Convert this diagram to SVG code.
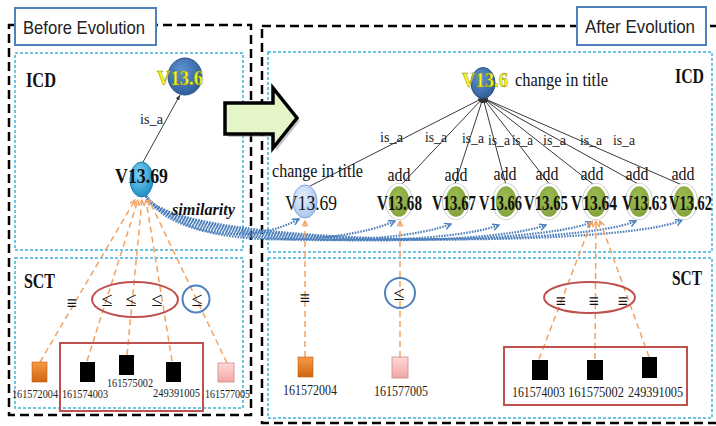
<svg xmlns="http://www.w3.org/2000/svg" width="716" height="426" viewBox="0 0 716 426">
<defs>
<style>
.serif{font-family:"Liberation Serif","Times New Roman",serif}
.sans{font-family:"Liberation Sans",Arial,sans-serif}
.outer{fill:none;stroke:#000;stroke-width:2.5;stroke-dasharray:9 5}
.cyan{fill:none;stroke:#3cb4d8;stroke-width:1.5;stroke-dasharray:3 2}
.tag{fill:#fff;stroke:#4f81bd;stroke-width:2}
.isa{stroke:#3a3a3a;stroke-width:1;fill:none;marker-end:url(#ai)}
.map{fill:none;stroke:#f4a261;stroke-width:1.5;stroke-dasharray:6 4;marker-end:url(#ao)}
.sim{fill:none;stroke:#4f81bd;stroke-width:2.2;stroke-dasharray:1.6 1.2;marker-end:url(#ab)}
.grp{fill:none;stroke:#c0504d;stroke-width:2}
.node{font-weight:bold;font-size:20px;fill:#111}
.noder{font-size:20px;fill:#111}
.lab{font-size:18px;fill:#111}
.isal{font-size:15px;fill:#222}
.num{font-size:12px;fill:#222}
.numr{font-size:14px;fill:#222}
.sym{font-size:18px;font-weight:bold;fill:#111}
.le{font-size:20px;fill:#111}
.hd{font-weight:bold;font-size:20px;fill:#111}
.green{fill:url(#gGreen);stroke:#fff;stroke-width:2.5}
.halo{fill:none;stroke:#cfcfcf;stroke-width:1.2}
.blk{fill:#000}
.yel{fill:#f7f722;stroke:#8a8a00;stroke-width:0.5;font-weight:bold;font-size:21px}
</style>
<marker id="ai" viewBox="0 0 10 10" refX="10" refY="5" markerWidth="5" markerHeight="5" markerUnits="userSpaceOnUse" orient="auto"><path d="M0,1 L10,5 L0,9 Z" fill="#333"/></marker>
<marker id="ao" viewBox="0 0 10 10" refX="9" refY="5" markerWidth="7" markerHeight="7" markerUnits="userSpaceOnUse" orient="auto"><path d="M1,1 L9,5 L1,9" fill="none" stroke="#f4a261" stroke-width="1.8"/></marker>
<marker id="ab" viewBox="0 0 10 10" refX="9" refY="5" markerWidth="8" markerHeight="8" markerUnits="userSpaceOnUse" orient="auto"><path d="M1,1 L9,5 L1,9" fill="none" stroke="#4f81bd" stroke-width="1.8"/></marker>
<radialGradient id="gDark" cx="40%" cy="35%" r="70%"><stop offset="0" stop-color="#5f92d2"/><stop offset="1" stop-color="#2d5b98"/></radialGradient>
<radialGradient id="gLight" cx="40%" cy="35%" r="70%"><stop offset="0" stop-color="#7fd3f4"/><stop offset="1" stop-color="#1b8ac4"/></radialGradient>
<radialGradient id="gPale" cx="40%" cy="35%" r="70%"><stop offset="0" stop-color="#e6effb"/><stop offset="1" stop-color="#a6c4ee"/></radialGradient>
<radialGradient id="gGreen" cx="45%" cy="40%" r="70%"><stop offset="0" stop-color="#9fbe55"/><stop offset="1" stop-color="#7d9c35"/></radialGradient>
<linearGradient id="gOrange" x1="0" y1="0" x2="0" y2="1"><stop offset="0" stop-color="#f79a46"/><stop offset="1" stop-color="#d0650f"/></linearGradient>
<linearGradient id="gPink" x1="0" y1="0" x2="0" y2="1"><stop offset="0" stop-color="#ffd8d8"/><stop offset="1" stop-color="#f3a6a6"/></linearGradient>
</defs>

<rect width="716" height="426" fill="#fff"/>

<g id="containers">
  <rect class="outer" x="9" y="25" width="242" height="390"/>
  <rect class="outer" x="262" y="26" width="456" height="397"/>
  <rect class="cyan" x="15" y="53" width="228" height="197"/>
  <rect class="cyan" x="15" y="258" width="228" height="150"/>
  <rect class="cyan" x="268" y="52" width="444" height="200"/>
  <rect class="cyan" x="268" y="258" width="444" height="160"/>
  <text class="serif hd" x="26" y="87" textLength="30" lengthAdjust="spacingAndGlyphs">ICD</text>
  <text class="serif hd" x="24" y="288" textLength="31" lengthAdjust="spacingAndGlyphs">SCT</text>
  <text class="serif hd" x="675" y="83" textLength="29" lengthAdjust="spacingAndGlyphs">ICD</text>
  <text class="serif hd" x="672" y="285" textLength="30" lengthAdjust="spacingAndGlyphs">SCT</text>
</g>

<g id="before-label">
  <rect class="tag" x="15" y="8" width="141" height="37"/>
  <text class="sans" x="23" y="34" font-size="19" fill="#222" textLength="122" lengthAdjust="spacingAndGlyphs">Before Evolution</text>
</g>
<g id="after-label">
  <rect class="tag" x="577" y="7" width="129" height="38"/>
  <text class="sans" x="585" y="33" font-size="19" fill="#222" textLength="110" lengthAdjust="spacingAndGlyphs">After Evolution</text>
</g>

<g id="evolution-arrow">
  <polygon points="228,106 276,106 276,91 300,121 276,151 276,137 228,137" fill="#888" opacity="0.45"/>
  <polygon points="225,103 273,103 273,88 297,118 273,148 273,134 225,134" fill="#e4f5c8" stroke="#000" stroke-width="3.5" stroke-linejoin="miter"/>
</g>

<g id="connectors">
  <line class="isa" x1="143" y1="162" x2="180" y2="95"/>
  <text class="serif isal" x="140" y="124" textLength="23" lengthAdjust="spacingAndGlyphs">is_a</text>
  <line class="isa" x1="310" y1="186" x2="483" y2="98"/>
  <line class="isa" x1="402" y1="184" x2="483" y2="98"/>
  <line class="isa" x1="455" y1="184" x2="483" y2="98"/>
  <line class="isa" x1="506" y1="185" x2="483" y2="98"/>
  <line class="isa" x1="550" y1="185" x2="483" y2="98"/>
  <line class="isa" x1="594" y1="185" x2="483" y2="98"/>
  <line class="isa" x1="640" y1="185" x2="483" y2="98"/>
  <line class="isa" x1="682" y1="185" x2="483" y2="98"/>
  <text class="serif isal" x="380" y="142" textLength="23" lengthAdjust="spacingAndGlyphs">is_a</text>
  <text class="serif isal" x="425" y="142" textLength="22" lengthAdjust="spacingAndGlyphs">is_a</text>
  <text class="serif isal" x="462" y="143" textLength="22" lengthAdjust="spacingAndGlyphs">is_a</text>
  <text class="serif isal" x="488" y="145" textLength="22" lengthAdjust="spacingAndGlyphs">is_a</text>
  <text class="serif isal" x="512" y="145" textLength="21" lengthAdjust="spacingAndGlyphs">is_a</text>
  <text class="serif isal" x="543" y="145" textLength="23" lengthAdjust="spacingAndGlyphs">is_a</text>
  <text class="serif isal" x="580" y="145" textLength="22" lengthAdjust="spacingAndGlyphs">is_a</text>
  <text class="serif isal" x="613" y="145" textLength="22" lengthAdjust="spacingAndGlyphs">is_a</text>

  <path class="sim" d="M146,196 C180,236 250,246 299,219"/>
  <path class="sim" d="M146,196 C175,250 335,248 395,221"/>
  <path class="sim" d="M146,196 C175,250 391,248 451,224"/>
  <path class="sim" d="M146,196 C175,250 439,248 499,225"/>
  <path class="sim" d="M146,196 C175,250 486,248 546,225"/>
  <path class="sim" d="M146,196 C175,250 533,248 592,222"/>
  <path class="sim" d="M146,196 C175,250 576,248 636,221"/>
  <path class="sim" d="M146,196 C175,250 622,248 682,220"/>
  <text class="serif" x="172" y="215" font-size="17" font-weight="bold" font-style="italic" fill="#111" textLength="63" lengthAdjust="spacingAndGlyphs">similarity</text>

  <line class="map" x1="40" y1="362" x2="135" y2="200"/>
  <line class="map" x1="87" y1="361" x2="138" y2="200"/>
  <line class="map" x1="127" y1="355" x2="142" y2="200"/>
  <line class="map" x1="172" y1="361" x2="146" y2="200"/>
  <line class="map" x1="227" y1="363" x2="149" y2="200"/>
  <line class="map" x1="305" y1="357" x2="305" y2="221"/>
  <line class="map" x1="400" y1="357" x2="400" y2="221"/>
  <line class="map" x1="539" y1="359" x2="592" y2="221"/>
  <line class="map" x1="595" y1="359" x2="596" y2="221"/>
  <line class="map" x1="649" y1="357" x2="600" y2="221"/>

  <ellipse class="grp" cx="135" cy="299.5" rx="43" ry="17.5"/>
  <circle cx="196" cy="299" r="13.5" fill="none" stroke="#4f81bd" stroke-width="2"/>
  <text class="serif sym" x="72" y="309" text-anchor="middle">≡</text>
  <text class="serif le" x="107" y="306" text-anchor="middle">≤</text>
  <text class="serif le" x="131" y="306" text-anchor="middle">≤</text>
  <text class="serif le" x="157" y="306" text-anchor="middle">≤</text>
  <text class="serif le" x="197" y="306" text-anchor="middle">≤</text>
  <ellipse class="grp" cx="589.5" cy="297.5" rx="45.5" ry="15.5"/>
  <circle cx="400" cy="293" r="15" fill="none" stroke="#4f81bd" stroke-width="2"/>
  <text class="serif sym" x="305" y="304" text-anchor="middle">≡</text>
  <text class="serif le" x="399" y="300" text-anchor="middle">≤</text>
  <text class="serif sym" x="561" y="307" text-anchor="middle">≡</text>
  <text class="serif sym" x="594" y="307" text-anchor="middle">≡</text>
  <text class="serif sym" x="623" y="307" text-anchor="middle">≡</text>
</g>

<g id="L-V13.6">
  <ellipse cx="185" cy="76.5" rx="17" ry="18.5" fill="url(#gDark)" stroke="#2a4f80" stroke-width="1"/>
  <text class="serif yel" x="157" y="85" textLength="46" lengthAdjust="spacingAndGlyphs">V13.6</text>
</g>
<g id="L-V13.69">
  <ellipse cx="141.5" cy="179.5" rx="11.5" ry="17.5" fill="url(#gLight)" stroke="#1a78b0" stroke-width="1"/>
  <text class="serif node" x="115" y="183" textLength="53" lengthAdjust="spacingAndGlyphs">V13.69</text>
</g>

<g id="R-V13.6">
  <ellipse cx="483" cy="83" rx="12" ry="15.5" fill="url(#gDark)" stroke="#2a4f80" stroke-width="1"/>
  <text class="serif yel" x="462" y="87" textLength="46" lengthAdjust="spacingAndGlyphs">V13.6</text>
  <text class="serif lab" x="515" y="86" textLength="93" lengthAdjust="spacingAndGlyphs">change in title</text>
</g>
<g id="R-V13.69">
  <ellipse cx="305" cy="201.5" rx="12" ry="16.5" fill="url(#gPale)" stroke="#7fa5dc" stroke-width="1"/>
  <text class="serif noder" x="285" y="210" textLength="52" lengthAdjust="spacingAndGlyphs">V13.69</text>
  <text class="serif lab" x="272" y="177" textLength="91" lengthAdjust="spacingAndGlyphs">change in title</text>
</g>
<g id="R-V13.68">
  <ellipse class="halo" cx="399" cy="201.5" rx="13.5" ry="18"/>
  <ellipse class="green" cx="399" cy="201.5" rx="11.5" ry="16.5"/>
  <text class="serif node" x="377" y="210" textLength="45" lengthAdjust="spacingAndGlyphs">V13.68</text>
  <text class="serif lab" x="399" y="181" text-anchor="middle" textLength="23" lengthAdjust="spacingAndGlyphs">add</text>
</g>
<g id="R-V13.67">
  <ellipse class="halo" cx="456" cy="201.5" rx="13.5" ry="18"/>
  <ellipse class="green" cx="456" cy="201.5" rx="11.5" ry="16.5"/>
  <text class="serif node" x="432" y="210" textLength="44" lengthAdjust="spacingAndGlyphs">V13.67</text>
  <text class="serif lab" x="456" y="181" text-anchor="middle" textLength="23" lengthAdjust="spacingAndGlyphs">add</text>
</g>
<g id="R-V13.66">
  <ellipse class="halo" cx="506" cy="201.5" rx="13.5" ry="18"/>
  <ellipse class="green" cx="506" cy="201.5" rx="11.5" ry="16.5"/>
  <text class="serif node" x="479" y="210" textLength="43" lengthAdjust="spacingAndGlyphs">V13.66</text>
  <text class="serif lab" x="505" y="180" text-anchor="middle" textLength="23" lengthAdjust="spacingAndGlyphs">add</text>
</g>
<g id="R-V13.65">
  <ellipse class="halo" cx="549" cy="201.5" rx="13.5" ry="18"/>
  <ellipse class="green" cx="549" cy="201.5" rx="11.5" ry="16.5"/>
  <text class="serif node" x="524" y="210" textLength="44" lengthAdjust="spacingAndGlyphs">V13.65</text>
  <text class="serif lab" x="547" y="180" text-anchor="middle" textLength="23" lengthAdjust="spacingAndGlyphs">add</text>
</g>
<g id="R-V13.64">
  <ellipse class="halo" cx="596" cy="201.5" rx="13.5" ry="18"/>
  <ellipse class="green" cx="596" cy="201.5" rx="11.5" ry="16.5"/>
  <text class="serif node" x="571" y="210" textLength="46" lengthAdjust="spacingAndGlyphs">V13.64</text>
  <text class="serif lab" x="592" y="180" text-anchor="middle" textLength="23" lengthAdjust="spacingAndGlyphs">add</text>
</g>
<g id="R-V13.63">
  <ellipse class="halo" cx="639" cy="201.5" rx="13.5" ry="18"/>
  <ellipse class="green" cx="639" cy="201.5" rx="11.5" ry="16.5"/>
  <text class="serif node" x="622" y="210" textLength="45" lengthAdjust="spacingAndGlyphs">V13.63</text>
  <text class="serif lab" x="637" y="180" text-anchor="middle" textLength="23" lengthAdjust="spacingAndGlyphs">add</text>
</g>
<g id="R-V13.62">
  <ellipse class="halo" cx="684" cy="201.5" rx="13.5" ry="18"/>
  <ellipse class="green" cx="684" cy="201.5" rx="11.5" ry="16.5"/>
  <text class="serif node" x="669" y="210" textLength="43" lengthAdjust="spacingAndGlyphs">V13.62</text>
  <text class="serif lab" x="683" y="180" text-anchor="middle" textLength="23" lengthAdjust="spacingAndGlyphs">add</text>
</g>

<g id="L-group">
  <rect class="grp" x="60" y="343" width="143" height="68"/>
</g>
<g id="L-161572004">
  <rect x="32" y="362" width="15" height="20" fill="url(#gOrange)" stroke="#c06010" stroke-width="0.6"/>
  <text class="serif num" x="12" y="398" textLength="46" lengthAdjust="spacingAndGlyphs">161572004</text>
</g>
<g id="L-161574003">
  <rect class="blk" x="80" y="362" width="15" height="20"/>
  <text class="serif num" x="62" y="398" textLength="46" lengthAdjust="spacingAndGlyphs">161574003</text>
</g>
<g id="L-161575002">
  <rect class="blk" x="119" y="355" width="15" height="20"/>
  <text class="serif num" x="107" y="387" textLength="46" lengthAdjust="spacingAndGlyphs">161575002</text>
</g>
<g id="L-249391005">
  <rect class="blk" x="166" y="362" width="15" height="20"/>
  <text class="serif num" x="153" y="397" textLength="47" lengthAdjust="spacingAndGlyphs">249391005</text>
</g>
<g id="L-161577005">
  <rect x="218" y="363" width="16" height="19" fill="url(#gPink)" stroke="#c98a8a" stroke-width="0.8"/>
  <text class="serif num" x="205" y="398" textLength="45" lengthAdjust="spacingAndGlyphs">161577005</text>
</g>

<g id="R-group">
  <rect class="grp" x="504" y="347" width="183" height="58"/>
</g>
<g id="R-161572004">
  <rect x="298" y="357" width="15" height="20" fill="url(#gOrange)" stroke="#c06010" stroke-width="0.6"/>
  <text class="serif numr" x="283" y="395" textLength="54" lengthAdjust="spacingAndGlyphs">161572004</text>
</g>
<g id="R-161577005">
  <rect x="392" y="357" width="16" height="21" fill="url(#gPink)" stroke="#c98a8a" stroke-width="0.8"/>
  <text class="serif numr" x="374" y="396" textLength="54" lengthAdjust="spacingAndGlyphs">161577005</text>
</g>
<g id="R-161574003">
  <rect class="blk" x="532" y="360" width="16" height="20"/>
  <text class="serif numr" x="512" y="397" textLength="53" lengthAdjust="spacingAndGlyphs">161574003</text>
</g>
<g id="R-161575002">
  <rect class="blk" x="587" y="360" width="16" height="20"/>
  <text class="serif numr" x="568" y="397" textLength="56" lengthAdjust="spacingAndGlyphs">161575002</text>
</g>
<g id="R-249391005">
  <rect class="blk" x="642" y="357" width="15" height="21"/>
  <text class="serif numr" x="628" y="397" textLength="55" lengthAdjust="spacingAndGlyphs">249391005</text>
</g>
</svg>
